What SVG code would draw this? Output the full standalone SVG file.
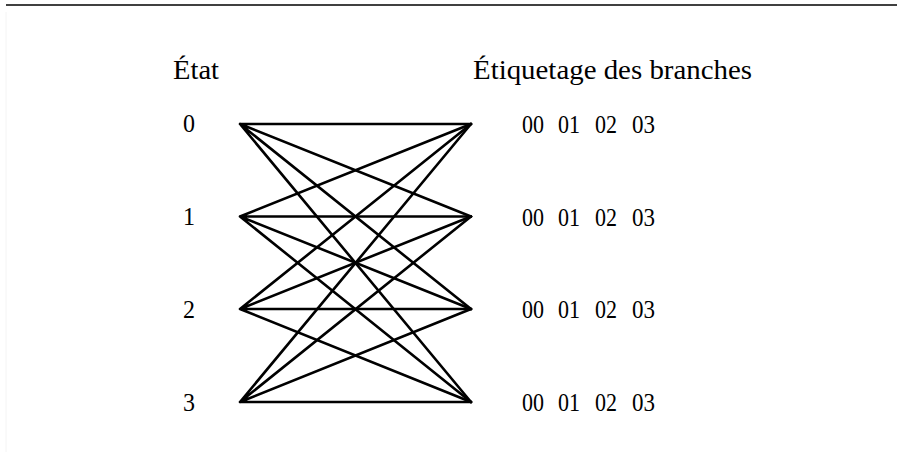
<svg xmlns="http://www.w3.org/2000/svg" width="900" height="458" viewBox="0 0 900 458">
<style>
.t{font-family:"Liberation Serif","Times New Roman",serif;fill:#000}
.h{font-size:28px}
.d{font-size:25px}
.e{stroke:#000;stroke-width:2.6;stroke-linecap:round;fill:none}
</style>
<rect width="900" height="458" fill="#fff"/>
<line x1="6" y1="5" x2="897" y2="5" stroke="#000" stroke-width="1.6"/>
<line x1="6" y1="12" x2="6" y2="452" stroke="#f4f4f4" stroke-width="1"/>
<g id="headers">
<text class="t h" x="173" y="79" textLength="46" lengthAdjust="spacingAndGlyphs">État</text>
<text class="t h" x="473" y="79" textLength="279" lengthAdjust="spacingAndGlyphs">Étiquetage des branches</text>
</g>
<g id="connectors">
<path class="e" d="M240,124L471,124M240,124L471,216.5M240,124L471,309M240,124L471,402"/>
<path class="e" d="M240,216.5L471,124M240,216.5L471,216.5M240,216.5L471,309M240,216.5L471,402"/>
<path class="e" d="M240,309L471,124M240,309L471,216.5M240,309L471,309M240,309L471,402"/>
<path class="e" d="M240,402L471,124M240,402L471,216.5M240,402L471,309M240,402L471,402"/>
</g>
<g id="state0"><text class="t d" x="183" y="132" textLength="12" lengthAdjust="spacingAndGlyphs">0</text></g>
<g id="state1"><text class="t d" x="183" y="225" textLength="12" lengthAdjust="spacingAndGlyphs">1</text></g>
<g id="state2"><text class="t d" x="183" y="318" textLength="12" lengthAdjust="spacingAndGlyphs">2</text></g>
<g id="state3"><text class="t d" x="183" y="411" textLength="12" lengthAdjust="spacingAndGlyphs">3</text></g>
<g id="labels0" class="t d">
<text x="522" y="133" textLength="22" lengthAdjust="spacingAndGlyphs">00</text><text x="558" y="133" textLength="22" lengthAdjust="spacingAndGlyphs">01</text><text x="595" y="133" textLength="22" lengthAdjust="spacingAndGlyphs">02</text><text x="632" y="133" textLength="23" lengthAdjust="spacingAndGlyphs">03</text>
</g>
<g id="labels1" class="t d">
<text x="522" y="225.5" textLength="22" lengthAdjust="spacingAndGlyphs">00</text><text x="558" y="225.5" textLength="22" lengthAdjust="spacingAndGlyphs">01</text><text x="595" y="225.5" textLength="22" lengthAdjust="spacingAndGlyphs">02</text><text x="632" y="225.5" textLength="23" lengthAdjust="spacingAndGlyphs">03</text>
</g>
<g id="labels2" class="t d">
<text x="522" y="318" textLength="22" lengthAdjust="spacingAndGlyphs">00</text><text x="558" y="318" textLength="22" lengthAdjust="spacingAndGlyphs">01</text><text x="595" y="318" textLength="22" lengthAdjust="spacingAndGlyphs">02</text><text x="632" y="318" textLength="23" lengthAdjust="spacingAndGlyphs">03</text>
</g>
<g id="labels3" class="t d">
<text x="522" y="411" textLength="22" lengthAdjust="spacingAndGlyphs">00</text><text x="558" y="411" textLength="22" lengthAdjust="spacingAndGlyphs">01</text><text x="595" y="411" textLength="22" lengthAdjust="spacingAndGlyphs">02</text><text x="632" y="411" textLength="23" lengthAdjust="spacingAndGlyphs">03</text>
</g>
</svg>
